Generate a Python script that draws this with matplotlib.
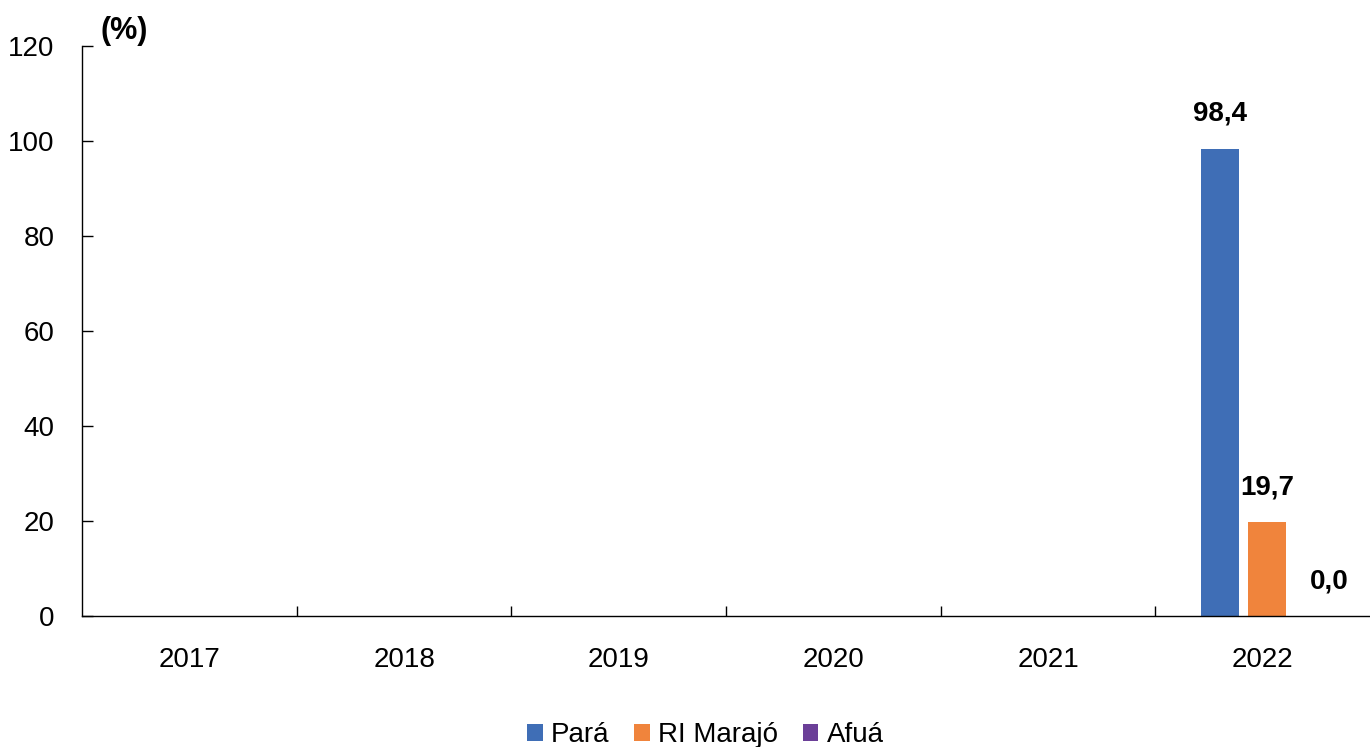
import matplotlib.pyplot as plt
import numpy as np

plt.rcParams['font.family'] = ['Liberation Sans', 'DejaVu Sans']

years = ['2017', '2018', '2019', '2020', '2021', '2022']
series_names = ['Pará', 'RI Marajó', 'Afuá']
para = [np.nan, np.nan, np.nan, np.nan, np.nan, 98.4]
marajo = [np.nan, np.nan, np.nan, np.nan, np.nan, 19.7]
afua = [np.nan, np.nan, np.nan, np.nan, np.nan, 0.0]
colors = ['#3F6EB6', '#F0843C', '#6B3F98']

FS = 20


def main():
    fig = plt.figure(figsize=(13.7, 7.47), dpi=100)
    ax = fig.add_axes([0.06, 0.1754, 0.94, 0.763])

    x = np.arange(len(years))
    width = 0.178
    offsets = [-0.2, 0.02, 0.24]
    for vals, name, col, off in zip([para, marajo, afua], series_names, colors, offsets):
        ax.bar(x + off, vals, width, color=col, label=name)
        for xi, v in zip(x, vals):
            if np.isnan(v):
                continue
            txt = f"{v:.1f}".replace('.', ',')
            ypos = v + 4.6 if v > 0 else v + 4.5
            dx = 0.07 if v == 0 else 0
            ax.text(xi + off + dx, ypos, txt, ha='center', va='bottom',
                    fontsize=FS, fontweight='bold')

    ax.set_xlim(-0.5, len(years) - 0.5)
    ax.set_ylim(0, 120)
    ax.set_yticks(np.arange(0, 121, 20))
    ax.set_xticks(x)
    ax.set_xticklabels(years)
    ax.set_xticks(np.arange(0.5, len(years) - 0.5, 1), minor=True)

    ax.tick_params(axis='y', direction='in', length=8, width=1, labelsize=FS, pad=20)
    ax.tick_params(axis='x', which='major', length=0, labelsize=FS, pad=22)
    ax.tick_params(axis='x', which='minor', direction='in', length=7, width=1)

    for s in ['top', 'right']:
        ax.spines[s].set_visible(False)
    ax.spines['left'].set_linewidth(1)
    ax.spines['bottom'].set_linewidth(1)

    ax.text(0.014, 1.0, '(%)', transform=ax.transAxes, fontsize=FS + 2,
            fontweight='bold', ha='left', va='bottom')

    fig.legend(loc='lower center', bbox_to_anchor=(0.515, -0.035), ncol=3,
               frameon=False, fontsize=FS, handlelength=0.55, handleheight=0.55,
               handletextpad=0.3, columnspacing=0.9)

    fig.savefig('out.png', dpi=100)


if __name__ == "__main__":
    main()
